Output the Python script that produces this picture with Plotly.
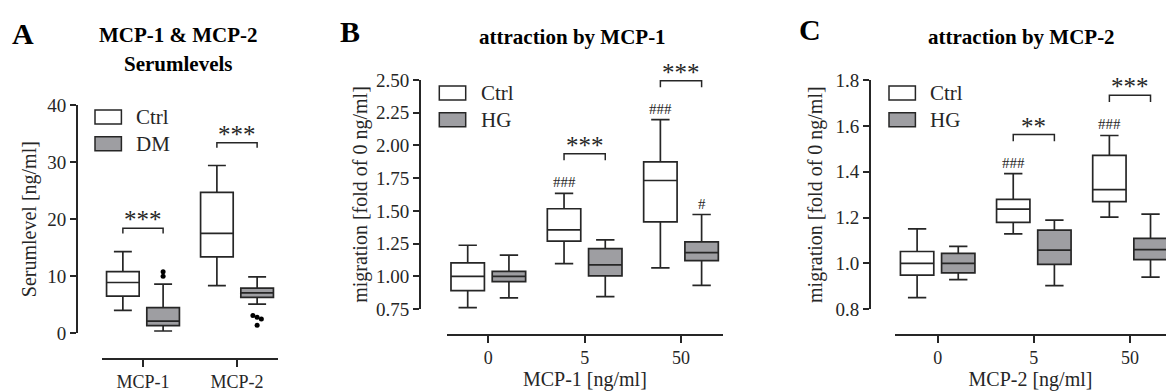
import plotly.graph_objects as go

# ---------------- data ----------------
A_categories = ["MCP-1", "MCP-2"]
A_ctrl_lo = [4.0, 8.35]
A_ctrl_q1 = [6.5, 13.4]
A_ctrl_med = [8.9, 17.5]
A_ctrl_q3 = [10.8, 24.7]
A_ctrl_hi = [14.3, 29.4]
A_dm_lo = [0.4, 5.1]
A_dm_q1 = [1.35, 6.3]
A_dm_med = [2.15, 7.1]
A_dm_q3 = [4.5, 7.9]
A_dm_hi = [8.6, 9.9]
A_dm_outlier_cat = [0, 0, 1, 1, 1, 1]
A_dm_outlier_val = [10.8, 10.0, 3.1, 2.8, 2.5, 1.4]
A_dm_outlier_jitter = [0.0, 0.0, -0.045, 0.0, 0.045, 0.0]
A_sig = [(0, "***", 18.4), (1, "***", 33.4)]

B_categories = ["0", "5", "50"]
B_ctrl_lo = [0.76, 1.097, 1.064]
B_ctrl_q1 = [0.891, 1.268, 1.416]
B_ctrl_med = [1.0, 1.355, 1.732]
B_ctrl_q3 = [1.102, 1.516, 1.875]
B_ctrl_hi = [1.237, 1.633, 2.197]
B_hg_lo = [0.835, 0.845, 0.931]
B_hg_q1 = [0.959, 1.003, 1.12]
B_hg_med = [1.0, 1.087, 1.181]
B_hg_q3 = [1.038, 1.212, 1.263]
B_hg_hi = [1.161, 1.278, 1.472]
B_sig = [(1, "***", 1.936), (2, "***", 2.495)]
B_hash = [(1, "ctrl", "###"), (2, "ctrl", "###"), (2, "hg", "#")]

C_categories = ["0", "5", "50"]
C_ctrl_lo = [0.851, 1.129, 1.202]
C_ctrl_q1 = [0.949, 1.179, 1.27]
C_ctrl_med = [1.0, 1.237, 1.322]
C_ctrl_q3 = [1.052, 1.279, 1.471]
C_ctrl_hi = [1.151, 1.392, 1.558]
C_hg_lo = [0.929, 0.903, 0.94]
C_hg_q1 = [0.959, 0.996, 1.017]
C_hg_med = [1.0, 1.058, 1.06]
C_hg_q3 = [1.044, 1.145, 1.109]
C_hg_hi = [1.074, 1.189, 1.215]
C_sig = [(1, "**", 1.562), (2, "***", 1.733)]
C_hash = [(1, "ctrl", "###"), (2, "ctrl", "###")]

# ---------------- style ----------------
W, H = 1166, 391
INK = "#262626"
GRAY = "#9e9ea2"
SERIF = "Liberation Serif, Times New Roman, serif"
OFF = 0.214      # group offset (category units)
BW = 0.347       # box width (category units)
LW = 1.7


def px_x(p):
    return p / W


def px_y(p):
    return 1 - p / H


fig = go.Figure()


def add_boxes(xa, ya, lo, q1, med, q3, hi, fill, sign):
    n = len(lo)
    fig.add_trace(go.Box(
        x=[i + sign * OFF for i in range(n)],
        lowerfence=lo, q1=q1, median=med, q3=q3, upperfence=hi,
        width=BW, whiskerwidth=0.55, fillcolor=fill,
        line=dict(color=INK, width=LW), boxpoints=False,
        xaxis=xa, yaxis=ya, showlegend=False, hoverinfo="skip"))


# Panel A
add_boxes("x", "y", A_ctrl_lo, A_ctrl_q1, A_ctrl_med, A_ctrl_q3, A_ctrl_hi, "white", -1)
add_boxes("x", "y", A_dm_lo, A_dm_q1, A_dm_med, A_dm_q3, A_dm_hi, GRAY, 1)
fig.add_trace(go.Scatter(
    x=[c + OFF + j for c, j in zip(A_dm_outlier_cat, A_dm_outlier_jitter)],
    y=A_dm_outlier_val, mode="markers",
    marker=dict(color="black", size=5), xaxis="x", yaxis="y",
    showlegend=False, hoverinfo="skip"))
# Panel B
add_boxes("x2", "y2", B_ctrl_lo, B_ctrl_q1, B_ctrl_med, B_ctrl_q3, B_ctrl_hi, "white", -1)
add_boxes("x2", "y2", B_hg_lo, B_hg_q1, B_hg_med, B_hg_q3, B_hg_hi, GRAY, 1)
# Panel C
add_boxes("x3", "y3", C_ctrl_lo, C_ctrl_q1, C_ctrl_med, C_ctrl_q3, C_ctrl_hi, "white", -1)
add_boxes("x3", "y3", C_hg_lo, C_hg_q1, C_hg_med, C_hg_q3, C_hg_hi, GRAY, 1)

tickfont = dict(family=SERIF, size=18, color=INK)
titlefont = dict(family=SERIF, size=20, color=INK)


def yaxis(domain_px, pos_px, rng, tickvals, fmt, title, standoff):
    return dict(domain=[px_y(domain_px[1]), px_y(domain_px[0])], anchor="free",
                position=px_x(pos_px), range=rng, tickvals=tickvals, tickformat=fmt,
                showline=True, linecolor=INK, linewidth=LW, ticks="outside",
                ticklen=6, tickwidth=LW, tickcolor=INK, showgrid=False,
                zeroline=False, tickfont=dict(tickfont, size=19), automargin=False,
                title=dict(text=title, font=titlefont, standoff=standoff))


def xaxis(domain_px, pos_px, rng, ticktext, title):
    return dict(domain=[px_x(domain_px[0]), px_x(domain_px[1])], anchor="free",
                position=px_y(pos_px), range=rng,
                tickvals=list(range(len(ticktext))), ticktext=ticktext,
                showline=True, linecolor=INK, linewidth=LW, ticks="outside",
                ticklen=7, tickwidth=LW, tickcolor=INK, showgrid=False,
                zeroline=False, tickfont=tickfont, automargin=False,
                title=dict(text=title, font=titlefont, standoff=3))


fig.update_layout(
    template="none",
    width=W, height=H,
    margin=dict(l=0, r=0, t=0, b=0, pad=0, autoexpand=False),
    paper_bgcolor="white", plot_bgcolor="rgba(0,0,0,0)",
    xaxis=xaxis((102, 278), 359, [-0.436, 1.436], A_categories, ""),
    yaxis=yaxis((105, 333.3), 77, [0, 40], [0, 10, 20, 30, 40], "d",
                "Serumlevel [ng/ml]", 4),
    xaxis2=xaxis((446.7, 723), 335, [-0.432, 2.436], B_categories, "MCP-1 [ng/ml]"),
    yaxis2=yaxis((80, 309), 420, [0.75, 2.5],
                 [0.75, 1.0, 1.25, 1.5, 1.75, 2.0, 2.25, 2.5], ".2f",
                 "migration [fold of 0 ng/ml]", 2),
    xaxis3=xaxis((895, 1166), 335, [-0.444, 2.375], C_categories, "MCP-2 [ng/ml]"),
    yaxis3=yaxis((80, 309.3), 870, [0.8, 1.8], [0.8, 1.0, 1.2, 1.4, 1.6, 1.8], ".1f",
                 "migration [fold of 0 ng/ml]", 7),
)

shapes = []
annotations = []


def add_sig(xa, ya, sig, drop):
    for cat, stars, h in sig:
        x0, x1 = cat - OFF, cat + OFF
        shapes.append(dict(type="path", xref=xa, yref=ya,
                           path=f"M {x0},{h - drop} L {x0},{h} L {x1},{h} L {x1},{h - drop}",
                           line=dict(color=INK, width=1.5)))
        annotations.append(dict(x=cat, y=h, xref=xa, yref=ya, text=stars,
                                showarrow=False, yanchor="bottom", yshift=-7,
                                font=dict(family=SERIF, size=25, color=INK)))


add_sig("x", "y", A_sig, 0.9)
add_sig("x2", "y2", B_sig, 0.05)
add_sig("x3", "y3", C_sig, 0.029)


def add_hash(xa, ya, hashes, ctrl_hi, hg_hi):
    for cat, grp, txt in hashes:
        if grp == "ctrl":
            x, y = cat - OFF, ctrl_hi[cat]
        else:
            x, y = cat + OFF, hg_hi[cat]
        annotations.append(dict(x=x, y=y, xref=xa, yref=ya, text=txt,
                                showarrow=False, yanchor="bottom", yshift=1,
                                font=dict(family=SERIF, size=15, color=INK)))


add_hash("x2", "y2", B_hash, B_ctrl_hi, B_hg_hi)
add_hash("x3", "y3", C_hash, C_ctrl_hi, C_hg_hi)

# legends (drawn as swatches + text)
legends = [
    (95, 134, ["Ctrl", "DM"]),
    (439.3, 478.7, ["Ctrl", "HG"]),
    (889, 928, ["Ctrl", "HG"]),
]
legend_rows = [(86, 100), (112.7, 126.7)]
for i, (bx, tx, labels) in enumerate(legends):
    yoff = 24 if i == 0 else 0
    for (y0, y1), lab, fill in zip(legend_rows, labels, ["white", GRAY]):
        shapes.append(dict(type="rect", xref="paper", yref="paper",
                           x0=px_x(bx), x1=px_x(bx + 26.4),
                           y0=px_y(y1 + yoff), y1=px_y(y0 + yoff),
                           fillcolor=fill, line=dict(color=INK, width=1.5)))
        annotations.append(dict(x=px_x(tx), y=px_y((y0 + y1) / 2 + yoff),
                                xref="paper", yref="paper", text=lab,
                                showarrow=False, xanchor="left", yanchor="middle",
                                font=dict(family=SERIF, size=21, color=INK)))

# titles and panel letters
titles = [
    (178, 35, "MCP-1 & MCP-2"),
    (178, 64, "Serumlevels"),
    (572.5, 37, "attraction by MCP-1"),
    (1021.5, 37, "attraction by MCP-2"),
]
for x, y, t in titles:
    annotations.append(dict(x=px_x(x), y=px_y(y), xref="paper", yref="paper",
                            text=f"<b>{t}</b>", showarrow=False,
                            xanchor="center", yanchor="middle",
                            font=dict(family=SERIF, size=21, color="black")))
letters = [(22.5, 33, "A"), (350, 31, "B"), (810, 30, "C")]
for x, y, t in letters:
    annotations.append(dict(x=px_x(x), y=px_y(y), xref="paper", yref="paper",
                            text=f"<b>{t}</b>", showarrow=False,
                            xanchor="center", yanchor="middle",
                            font=dict(family=SERIF, size=30, color="black")))

fig.update_layout(shapes=shapes, annotations=annotations)
fig.write_html("out.html",
               config={"displayModeBar": False},
               post_script="document.body.style.margin='0';"
                           "document.body.style.overflow='hidden';")
